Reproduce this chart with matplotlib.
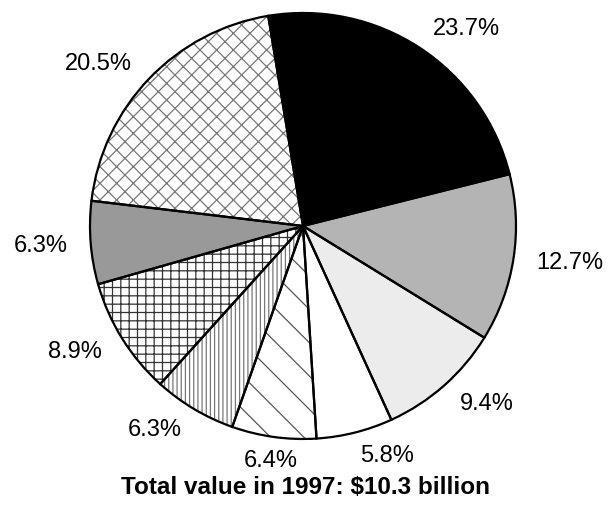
import matplotlib
matplotlib.use("Agg")
import matplotlib.pyplot as plt

shares = [23.7, 12.7, 9.4, 5.8, 6.4, 6.3, 8.9, 6.3, 20.5]
fills = ["black", "#b4b4b4", "#ececec", "white", "white", "white", "white", "#999999", "white"]
hatches = [None, None, None, None, "\\", "||||", "++", None, "xx"]
hatch_cols = ["black", "black", "black", "black", "#555555", "#777777", "#333333", "black", "#777777"]
note = "Total value in 1997: \\$10.3 billion"

plt.rcParams["font.family"] = ["Liberation Sans", "DejaVu Sans"]
plt.rcParams["hatch.linewidth"] = 0.9

fig = plt.figure(figsize=(6.08, 5.10), dpi=100)
ax = fig.add_axes([0.1480, 0.1373, 0.7007, 0.8353])

# fill + hatch layer (hatch takes the edge colour, so no outline here)
w1, _ = ax.pie(shares, colors=fills, startangle=99.4, counterclock=False,
               wedgeprops=dict(linewidth=0))
for w, h, c in zip(w1, hatches, hatch_cols):
    if h:
        w.set_hatch(h)
        w.set_edgecolor(c)
    else:
        w.set_edgecolor(w.get_facecolor())

# outline layer with the percent labels
labels = ["%.1f%%" % s for s in shares]
w2, txt = ax.pie(shares, labels=labels, colors=["none"] * len(shares), startangle=99.4,
                 counterclock=False, labeldistance=1.11,
                 wedgeprops=dict(linewidth=1.6, edgecolor="black", fill=False))
for t in txt:
    t.set_fontsize(17)
    x, y = t.get_position()
    if abs(x) < 0.18:
        t.set_ha("center")

ax.set_xlim(-1, 1)
ax.set_ylim(-1, 1)

fig.text(0.502, 0.045, note, ha="center", va="center", fontsize=17.5, fontweight="bold")

fig.savefig("out.png", dpi=100)
